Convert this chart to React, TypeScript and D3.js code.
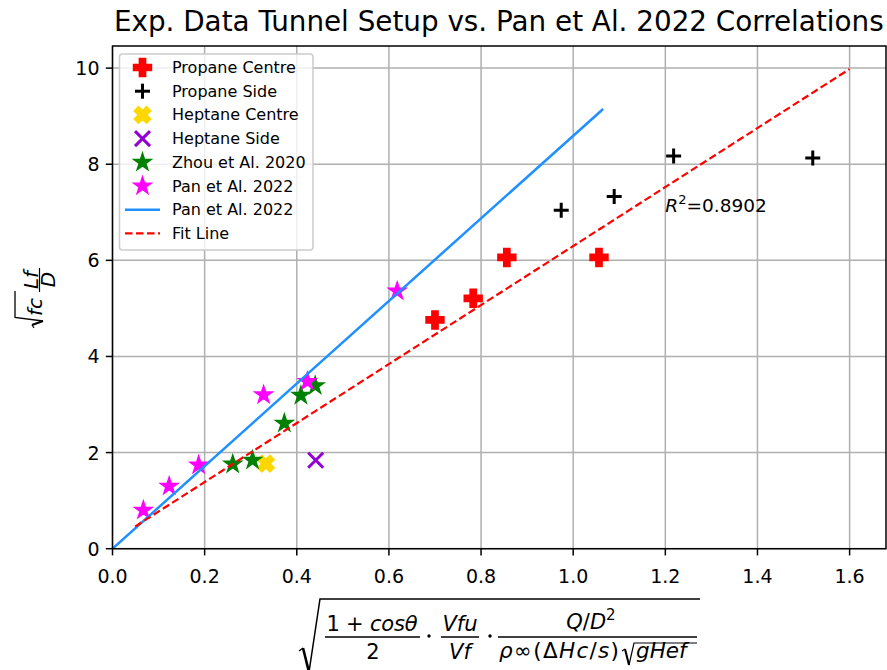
import * as d3 from 'd3';

// values
const propaneCentre: [number, number][] = [[0.700, 4.76], [0.783, 5.21], [0.856, 6.06], [1.056, 6.06]];
const propaneSide: [number, number][] = [[0.974, 7.04], [1.089, 7.33], [1.218, 8.17], [1.520, 8.13]];
const heptaneCentre: [number, number][] = [[0.333, 1.77]];
const heptaneSide: [number, number][] = [[0.441, 1.84]];
const zhou2020: [number, number][] = [[0.261, 1.76], [0.304, 1.84], [0.373, 2.61], [0.409, 3.19], [0.440, 3.39]];
const pan2022: [number, number][] = [[0.067, 0.80], [0.123, 1.30], [0.187, 1.74], [0.328, 3.20], [0.423, 3.48], [0.618, 5.36]];
const panLine: [number, number][] = [[0, 0], [1.065, 9.15]];
const fitLine: [number, number][] = [[0.049, 0.46], [1.6, 9.98]];

const xTicks = [0, 0.2, 0.4, 0.6, 0.8, 1.0, 1.2, 1.4, 1.6];
const yTicks = [0, 2, 4, 6, 8, 10];
const r2Label = { x: 1.2, y: 7.0, value: '0.8902' };
const title = 'Exp. Data Tunnel Setup vs. Pan et Al. 2022 Correlations';

const W = 887, H = 670;
const left = 112.5, right = 886, top = 46, bottom = 548.7;
const FONT = 'DejaVu Sans';

const x = d3.scaleLinear().domain([0, 1.679]).range([left, right]);
const y = d3.scaleLinear().domain([0, 10.46]).range([bottom, top]);

type Kind = 'P' | '+' | 'X' | 'x' | '*';

function starPath(r: number) {
  const ri = r * 0.381966;
  const pts: string[] = [];
  for (let i = 0; i < 10; i++) {
    const a = -Math.PI / 2 + i * Math.PI / 5;
    const rr = i % 2 === 0 ? r : ri;
    pts.push(`${(rr * Math.cos(a)).toFixed(2)},${(rr * Math.sin(a)).toFixed(2)}`);
  }
  return 'M' + pts.join('L') + 'Z';
}

const plusFilled = 'M' + [[-1, -3], [1, -3], [1, -1], [3, -1], [3, 1], [1, 1], [1, 3], [-1, 3], [-1, 1], [-3, 1], [-3, -1], [-1, -1]]
  .map(p => `${p[0] * 17.5 / 6},${p[1] * 17.5 / 6}`).join('L') + 'Z';
const xFilled = 'M' + [[-1, -2], [0, -1], [1, -2], [2, -1], [1, 0], [2, 1], [1, 2], [0, 1], [-1, 2], [-2, 1], [-1, 0], [-2, -1]]
  .map(p => `${p[0] * 16 / 4},${p[1] * 16 / 4}`).join('L') + 'Z';

const Marker = ({ kind, cx, cy, color }: { kind: Kind; cx: number; cy: number; color: string }) => {
  const t = `translate(${cx},${cy})`;
  if (kind === 'P') return <path transform={t} d={plusFilled} fill={color} stroke={color} strokeWidth={1.9} />;
  if (kind === 'X') return <path transform={t} d={xFilled} fill={color} stroke={color} strokeWidth={1.9} />;
  if (kind === '*') return <path transform={t} d={starPath(9.2)} fill={color} stroke={color} strokeWidth={1.4} />;
  if (kind === '+') return (
    <g transform={t} stroke={color} strokeWidth={3}>
      <line x1={-7.5} x2={7.5} y1={0} y2={0} />
      <line x1={0} x2={0} y1={-7.5} y2={7.5} />
    </g>
  );
  return (
    <g transform={t} stroke={color} strokeWidth={3}>
      <line x1={-7.5} x2={7.5} y1={-7.5} y2={7.5} />
      <line x1={-7.5} x2={7.5} y1={7.5} y2={-7.5} />
    </g>
  );
};

const scatterSeries: { label: string; data: [number, number][]; kind: Kind; color: string }[] = [
  { label: 'Propane Centre', data: propaneCentre, kind: 'P', color: '#ff0000' },
  { label: 'Propane Side', data: propaneSide, kind: '+', color: '#000000' },
  { label: 'Heptane Centre', data: heptaneCentre, kind: 'X', color: '#ffd700' },
  { label: 'Heptane Side', data: heptaneSide, kind: 'x', color: '#9400d3' },
  { label: 'Zhou et Al. 2020', data: zhou2020, kind: '*', color: '#008000' },
  { label: 'Pan et Al. 2022', data: pan2022, kind: '*', color: '#ff00ff' },
];
const lineSeries = [
  { label: 'Pan et Al. 2022', data: panLine, color: '#1e90ff', dash: undefined as string | undefined, width: 2.5 },
  { label: 'Fit Line', data: fitLine, color: '#ff0000', dash: '7.5,3.5', width: 2.2 },
];

const line = d3.line<[number, number]>().x(d => x(d[0])).y(d => y(d[1]));

const App = () => {
  const legendRow = 23.7;
  return (
    <svg width={W} height={H} style={{ position: 'absolute', left: 0, top: 0, background: '#fff' }} fontFamily={FONT}>
      <rect width={W} height={H} fill="#fff" />
      <defs>
        <clipPath id="plot"><rect x={left} y={top} width={right - left} height={bottom - top} /></clipPath>
      </defs>

      {/* grid */}
      <g stroke="#b0b0b0" strokeWidth={1.5}>
        {xTicks.map(t => <line key={'gx' + t} x1={x(t)} x2={x(t)} y1={top} y2={bottom} />)}
        {yTicks.map(t => <line key={'gy' + t} x1={left} x2={right} y1={y(t)} y2={y(t)} />)}
      </g>

      {/* points */}
      <g clipPath="url(#plot)">
        {scatterSeries.map(s => s.data.map((d, i) => (
          <Marker key={s.label + s.kind + i} kind={s.kind} cx={x(d[0])} cy={y(d[1])} color={s.color} />
        )))}
        {lineSeries.map(s => (
          <path key={s.label + s.color} d={line(s.data) || ''} fill="none" stroke={s.color} strokeWidth={s.width} strokeDasharray={s.dash} />
        ))}
      </g>

      <text x={x(r2Label.x)} y={y(r2Label.y)} fontSize={18.5}>
        <tspan fontStyle="italic">R</tspan><tspan fontSize={13} dy={-8}>2</tspan><tspan dy={8}>={r2Label.value}</tspan>
      </text>

      {/* spines */}
      <rect x={left} y={top} width={right - left} height={bottom - top} fill="none" stroke="#000" strokeWidth={1.5} />

      {/* ticks */}
      <g stroke="#000" strokeWidth={1.5}>
        {xTicks.map(t => <line key={'tx' + t} x1={x(t)} x2={x(t)} y1={bottom} y2={bottom + 6.7} />)}
        {yTicks.map(t => <line key={'ty' + t} x1={left - 6.7} x2={left} y1={y(t)} y2={y(t)} />)}
      </g>
      <g fontSize={19} fill="#000">
        {xTicks.map(t => <text key={'lx' + t} x={x(t)} y={bottom + 34.5} textAnchor="middle">{t.toFixed(1)}</text>)}
        {yTicks.map(t => <text key={'ly' + t} x={left - 13} y={y(t) + 7} textAnchor="end">{t}</text>)}
      </g>

      <text x={(left + right) / 2 - 0.5} y={31} fontSize={27.8} textAnchor="middle">{title}</text>

      {/* legend */}
      <g>
        <rect x={119.5} y={54} width={193.5} height={196} rx={3} fill="#fff" fillOpacity={0.8} stroke="#cccccc" strokeWidth={1.5} />
        {scatterSeries.map((s, i) => (
          <g key={'leg' + i}>
            <Marker kind={s.kind} cx={142.5} cy={67.5 + i * legendRow} color={s.color} />
            <text x={172} y={67.5 + i * legendRow + 5.5} fontSize={16}>{s.label}</text>
          </g>
        ))}
        {lineSeries.map((s, j) => {
          const cy = 67.5 + (scatterSeries.length + j) * legendRow;
          return (
            <g key={'legl' + j}>
              <line x1={125} x2={160} y1={cy} y2={cy} stroke={s.color} strokeWidth={s.width} strokeDasharray={s.dash} />
              <text x={172} y={cy + 5.5} fontSize={16}>{s.label}</text>
            </g>
          );
        })}
      </g>

      {/* y label: sqrt(fc) Lf/D */}
      <g transform="translate(35,291) rotate(-90)" fill="#000">
        <path d="M-37,-1 L-34,-3" stroke="#000" strokeWidth={1.2} fill="none" />
        <path d="M-34,-3 L-30,8" stroke="#000" strokeWidth={2.2} fill="none" />
        <path d="M-30,8 L-26.5,-20 L0,-20" stroke="#000" strokeWidth={1.3} fill="none" />
        <text x={-25} y={7} fontSize={20} fontStyle="italic">fc</text>
        <text x={11} y={2.5} fontSize={20} fontStyle="italic" textAnchor="middle">Lf</text>
        <line x1={-1} x2={23} y1={4.5} y2={4.5} stroke="#000" strokeWidth={1.2} />
        <text x={11.5} y={19.5} fontSize={20} fontStyle="italic" textAnchor="middle">D</text>
      </g>

      {/* x label */}
      <g fill="#000" fontSize={20}>
        <path d="M299,651 L303,648" stroke="#000" strokeWidth={1.3} fill="none" />
        <path d="M303,648 L309,672" stroke="#000" strokeWidth={2.6} fill="none" />
        <path d="M309,672 L320,599 L700,599" stroke="#000" strokeWidth={1.5} fill="none" />

        <text x={372} y={631} textAnchor="middle" fontSize={21} textLength={91} lengthAdjust="spacing">1 + <tspan fontStyle="italic">cosθ</tspan></text>
        <line x1={325} x2={420} y1={637} y2={637} stroke="#000" strokeWidth={1.3} />
        <text x={373} y={659} textAnchor="middle" fontSize={21}>2</text>

        <circle cx={429} cy={636} r={1.7} />

        <text x={460} y={631} textAnchor="middle" fontStyle="italic" fontSize={21}>Vfu</text>
        <line x1={441} x2={479} y1={637} y2={637} stroke="#000" strokeWidth={1.3} />
        <text x={460} y={659} textAnchor="middle" fontStyle="italic" fontSize={21}>Vf</text>

        <circle cx={490} cy={636} r={1.7} />

        <text x={591} y={629} textAnchor="middle" fontSize={21}>
          <tspan fontStyle="italic">Q</tspan>/<tspan fontStyle="italic">D</tspan><tspan fontSize={15} dy={-9}>2</tspan>
        </text>
        <line x1={498} x2={697} y1={637} y2={637} stroke="#000" strokeWidth={1.3} />
        <text x={499} y={658} fontSize={21.5} textLength={120} lengthAdjust="spacing">
          <tspan fontStyle="italic">ρ</tspan>∞(Δ<tspan fontStyle="italic">Hc</tspan>/<tspan fontStyle="italic">s</tspan>)
        </text>
        <path d="M622,651 L625,649" stroke="#000" strokeWidth={1.1} fill="none" />
        <path d="M625,649 L629,665" stroke="#000" strokeWidth={2} fill="none" />
        <path d="M629,665 L634,643 L697,643" stroke="#000" strokeWidth={1.2} fill="none" />
        <text x={636} y={658} fontStyle="italic" fontSize={21.5}>gHef</text>
      </g>
    </svg>
  );
};

export default App;
